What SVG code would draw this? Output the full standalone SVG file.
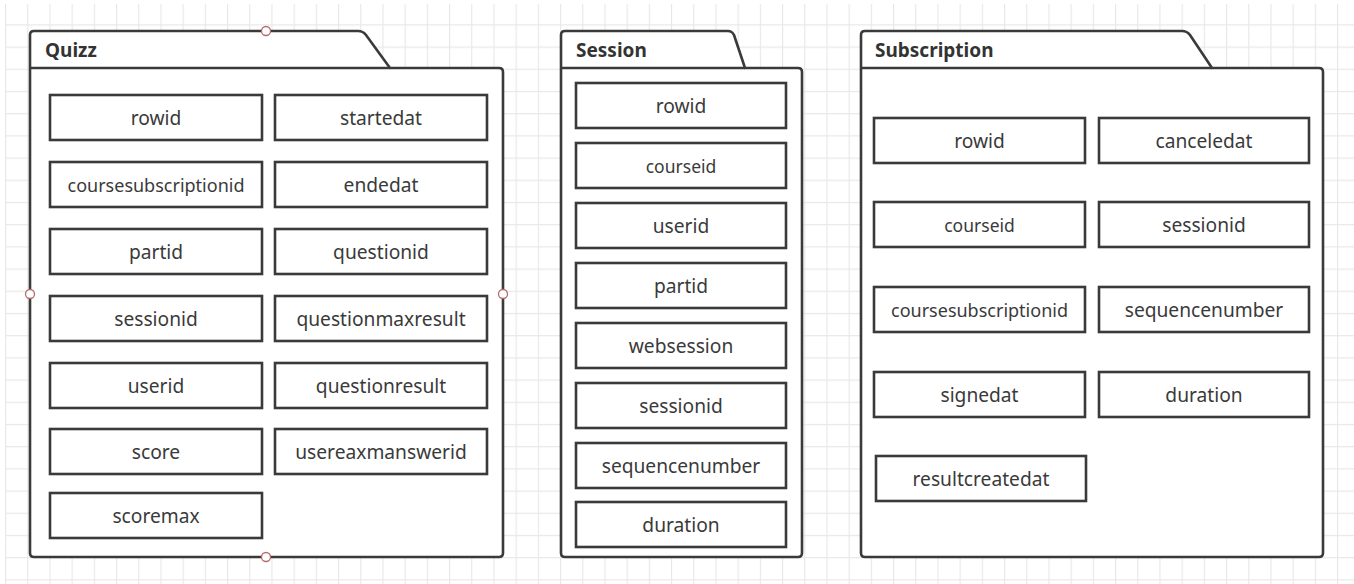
<svg xmlns="http://www.w3.org/2000/svg" width="1354" height="584" viewBox="0 0 1354 584">
<defs>
<pattern id="grid" patternUnits="userSpaceOnUse" x="5" y="2.1" width="22.2" height="22.2">
<path d="M0 0.5 H22.2 M0.5 0 V22.2" fill="none" stroke="#e8e8e8" stroke-width="1.3"/>
</pattern>
<style>
.pkg{fill:#fff;stroke:#3a3a3a;stroke-width:2.6;stroke-linejoin:round}
.sep{fill:none;stroke:#3a3a3a;stroke-width:2.6}
.fld{fill:#fff;stroke:#3a3a3a;stroke-width:2.6}
.ttl{font-family:"Noto Sans","Open Sans",sans-serif;font-weight:bold;font-size:19px;fill:#333}
.txt{font-family:"Noto Sans","Open Sans",sans-serif;font-size:19.2px;fill:#3a3a3a;text-anchor:middle;dominant-baseline:central}
.sm{font-size:17.5px}
.csi{font-size:18px}
.hdl{fill:#fff;stroke:#b36a6a;stroke-width:1.3}
</style>
</defs>
<rect width="1354" height="584" fill="#fff"/>
<rect x="5" y="4" width="1349" height="580" fill="url(#grid)"/>

<g id="quizz">
<path class="pkg" d="M30 68 V35 Q30 31 34 31 H358 Q363 31 366 35 L390 68 H499 Q503 68 503 72 V553 Q503 557 499 557 H34 Q30 557 30 553 Z"/>
<path class="sep" d="M30 68 H390"/>
<text class="ttl" x="45" y="57">Quizz</text>
<g id="q-rowid"><rect class="fld" x="50" y="95" width="212" height="45"/><text class="txt" x="156" y="117.5">rowid</text></g>
<g id="q-coursesubscriptionid"><rect class="fld" x="50" y="162" width="212" height="45"/><text class="txt csi" x="156" y="184.5">coursesubscriptionid</text></g>
<g id="q-partid"><rect class="fld" x="50" y="229" width="212" height="45"/><text class="txt" x="156" y="251.5">partid</text></g>
<g id="q-sessionid"><rect class="fld" x="50" y="296" width="212" height="45"/><text class="txt" x="156" y="318.5">sessionid</text></g>
<g id="q-userid"><rect class="fld" x="50" y="363" width="212" height="45"/><text class="txt" x="156" y="385.5">userid</text></g>
<g id="q-score"><rect class="fld" x="50" y="429" width="212" height="45"/><text class="txt" x="156" y="451.5">score</text></g>
<g id="q-scoremax"><rect class="fld" x="50" y="493" width="212" height="45"/><text class="txt" x="156" y="515.5">scoremax</text></g>
<g id="q-startedat"><rect class="fld" x="275" y="95" width="212" height="45"/><text class="txt" x="381" y="117.5">startedat</text></g>
<g id="q-endedat"><rect class="fld" x="275" y="162" width="212" height="45"/><text class="txt" x="381" y="184.5">endedat</text></g>
<g id="q-questionid"><rect class="fld" x="275" y="229" width="212" height="45"/><text class="txt" x="381" y="251.5">questionid</text></g>
<g id="q-questionmaxresult"><rect class="fld" x="275" y="296" width="212" height="45"/><text class="txt" x="381" y="318.5">questionmaxresult</text></g>
<g id="q-questionresult"><rect class="fld" x="275" y="363" width="212" height="45"/><text class="txt" x="381" y="385.5">questionresult</text></g>
<g id="q-usereaxmanswerid"><rect class="fld" x="275" y="429" width="212" height="45"/><text class="txt" x="381" y="451.5">usereaxmanswerid</text></g>
<circle class="hdl" cx="266" cy="31" r="4.5"/>
<circle class="hdl" cx="30" cy="294" r="4.5"/>
<circle class="hdl" cx="503" cy="294" r="4.5"/>
<circle class="hdl" cx="266" cy="557" r="4.5"/>
</g>

<g id="session">
<path class="pkg" d="M561 68 V35 Q561 31 565 31 H728 Q732 31 734 35 L745 68 H798 Q802 68 802 72 V553 Q802 557 798 557 H565 Q561 557 561 553 Z"/>
<path class="sep" d="M561 68 H745"/>
<text class="ttl" x="576" y="57">Session</text>
<g id="s-rowid"><rect class="fld" x="576" y="83" width="210" height="45"/><text class="txt" x="681" y="105.5">rowid</text></g>
<g id="s-courseid"><rect class="fld" x="576" y="143" width="210" height="45"/><text class="txt sm" x="681" y="165.5">courseid</text></g>
<g id="s-userid"><rect class="fld" x="576" y="203" width="210" height="45"/><text class="txt" x="681" y="225.5">userid</text></g>
<g id="s-partid"><rect class="fld" x="576" y="263" width="210" height="45"/><text class="txt" x="681" y="285.5">partid</text></g>
<g id="s-websession"><rect class="fld" x="576" y="323" width="210" height="45"/><text class="txt" x="681" y="345.5">websession</text></g>
<g id="s-sessionid"><rect class="fld" x="576" y="383" width="210" height="45"/><text class="txt" x="681" y="405.5">sessionid</text></g>
<g id="s-sequencenumber"><rect class="fld" x="576" y="443" width="210" height="45"/><text class="txt" x="681" y="465.5">sequencenumber</text></g>
<g id="s-duration"><rect class="fld" x="576" y="502" width="210" height="45"/><text class="txt" x="681" y="524.5">duration</text></g>
</g>

<g id="subscription">
<path class="pkg" d="M861 68 V35 Q861 31 865 31 H1182 Q1187 31 1190 35 L1212 68 H1319 Q1323 68 1323 72 V553 Q1323 557 1319 557 H865 Q861 557 861 553 Z"/>
<path class="sep" d="M861 68 H1212"/>
<text class="ttl" x="875" y="57">Subscription</text>
<g id="b-rowid"><rect class="fld" x="874" y="118" width="211" height="45"/><text class="txt" x="979.5" y="140.5">rowid</text></g>
<g id="b-courseid"><rect class="fld" x="874" y="202" width="211" height="45"/><text class="txt sm" x="979.5" y="224.5">courseid</text></g>
<g id="b-coursesubscriptionid"><rect class="fld" x="874" y="287" width="211" height="45"/><text class="txt csi" x="979.5" y="309.5">coursesubscriptionid</text></g>
<g id="b-signedat"><rect class="fld" x="874" y="372" width="211" height="45"/><text class="txt" x="979.5" y="394.5">signedat</text></g>
<g id="b-resultcreatedat"><rect class="fld" x="876" y="456" width="210" height="45"/><text class="txt" x="981" y="478.5">resultcreatedat</text></g>
<g id="b-canceledat"><rect class="fld" x="1099" y="118" width="210" height="45"/><text class="txt" x="1204" y="140.5">canceledat</text></g>
<g id="b-sessionid"><rect class="fld" x="1099" y="202" width="210" height="45"/><text class="txt" x="1204" y="224.5">sessionid</text></g>
<g id="b-sequencenumber"><rect class="fld" x="1099" y="287" width="210" height="45"/><text class="txt" x="1204" y="309.5">sequencenumber</text></g>
<g id="b-duration"><rect class="fld" x="1099" y="372" width="210" height="45"/><text class="txt" x="1204" y="394.5">duration</text></g>
</g>

<g id="connectors"></g>
</svg>
